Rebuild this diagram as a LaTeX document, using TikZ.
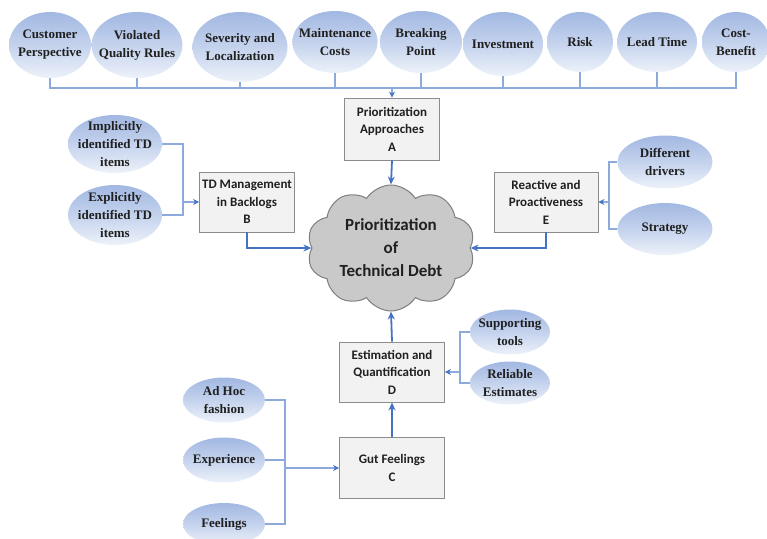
\documentclass[tikz,border=0pt]{standalone}
\usepackage{fontspec}
\setmainfont{Liberation Serif}
\newfontfamily\boxfont{Carlito}
\usetikzlibrary{arrows.meta,positioning,shapes.geometric,shapes.symbols}
\definecolor{factortop}{HTML}{A2B8E2}
\definecolor{factorbot}{HTML}{EDF2FA}
\definecolor{linkcol}{HTML}{8EA9DB}
\definecolor{flowcol}{HTML}{4472C4}
\definecolor{boxfill}{HTML}{F2F2F2}
\definecolor{boxline}{HTML}{8C8C8C}
\definecolor{cloudfill}{HTML}{C9C9C9}
\definecolor{cloudline}{HTML}{7F7F7F}
\definecolor{inktext}{HTML}{202020}

\tikzset{
  factor/.style={ellipse, top color=factortop, bottom color=factorbot, middle color=factortop!55!factorbot,
    inner sep=-6pt, align=center, text=inktext, font=\bfseries\fontsize{13}{18}\selectfont},
  stagebox/.style={rectangle, draw=boxline, fill=boxfill, line width=0.8pt, inner sep=0pt,
    align=center, text=inktext, font=\boxfont\bfseries\fontsize{13}{17.5}\selectfont},
  link/.style={linkcol, line width=1.1pt},
  feed/.style={link, -{Stealth[length=6pt,width=6pt,color=flowcol]}},
  flow/.style={flowcol, line width=1.8pt, -{Stealth[length=8pt,width=7pt]}},
}

\begin{document}
\begin{tikzpicture}[x=1pt,y=-1pt,>=Stealth]
  \useasboundingbox (0,0) rectangle (767,538);

  % factors feeding the prioritization approaches
  \foreach \nm/\x/\y/\w/\h/\lbl in {
      cust/50/45/82/66/{Customer\\Perspective},
      viol/137/45/82/66/{Violated\\Quality Rules},
      sev/240/47/95/70/{Severity and\\Localization},
      maint/335/42/80/62/{Maintenance\\Costs},
      brk/421/42/82/62/{Breaking\\Point},
      inv/503/44/80/64/{Investment},
      risk/580/42/66/60/{Risk},
      lead/657/42/80/60/{Lead Time},
      cost/736/42/68/60/{Cost-\\Benefit}} {
    \node[factor,minimum width=\w,minimum height=\h] (\nm) at (\x,\y) {\lbl};
  }

  % categories
  \node[stagebox,minimum width=95,minimum height=62] (appr) at (392,129) {Prioritization\\Approaches\\A};
  \node[stagebox,minimum width=95,minimum height=60] (backlog) at (247,202) {TD Management\\in Backlogs\\B};
  \node[stagebox,minimum width=104,minimum height=60] (react) at (546,202) {Reactive and\\Proactiveness\\E};
  \node[stagebox,minimum width=105,minimum height=60] (estim) at (392,372) {Estimation and\\Quantification\\D};
  \node[stagebox,minimum width=105,minimum height=61] (gut) at (392,468) {Gut Feelings\\C};

  \node[cloud,cloud puffs=10,cloud puff arc=115,cloud ignores aspect,minimum width=168,minimum height=126,inner sep=-8pt,
    fill=cloudfill,draw=cloudline,line width=1pt,align=center,text=inktext,
    font=\boxfont\bfseries\fontsize{17}{23}\selectfont] (debt) at (391,248) {Prioritization\\of\\Technical Debt};

  % side factors
  \node[factor,minimum width=94,minimum height=58] (impl) at (115,144) {Implicitly\\identified TD\\items};
  \node[factor,minimum width=94,minimum height=60] (expl) at (115,215) {Explicitly\\identified TD\\items};
  \node[factor,minimum width=95,minimum height=53] (drv) at (665,162) {Different\\drivers};
  \node[factor,minimum width=95,minimum height=52] (strat) at (665,229) {Strategy};
  \node[factor,minimum width=80,minimum height=45] (supp) at (510,332) {Supporting\\tools};
  \node[factor,minimum width=80,minimum height=43] (rel) at (510,383) {Reliable\\Estimates};
  \node[factor,minimum width=82,minimum height=45] (adhoc) at (224,400) {Ad Hoc\\fashion};
  \node[factor,minimum width=82,minimum height=45] (exper) at (224,460) {Experience};
  \node[factor,minimum width=82,minimum height=42] (feel) at (224,524) {Feelings};

  % top bus into A
  \coordinate (bus) at (0,88);
  \draw[link] (cust.south) |- (cost.south |- bus) -- (cost.south);
  \foreach \nm in {viol,sev,maint,brk,inv,risk,lead}
    \draw[link] (\nm.south) -- (\nm.south |- bus);
  \draw[feed] (appr.north |- bus) -- (appr.north);

  % forks
  \coordinate (jB) at (183,202);
  \coordinate (jE) at (609,202);
  \coordinate (jD) at (460,372);
  \coordinate (jC) at (285,468);
  \draw[link] (impl.east) -| (jB) |- (expl.east);
  \draw[feed] (jB) -- (backlog.west);
  \draw[link] (drv.west) -| (jE) |- (strat.west);
  \draw[feed] (jE) -- (react.east);
  \draw[link] (supp.west) -| (jD) |- (rel.west);
  \draw[feed] (jD) -- (estim.east);
  \draw[link] (adhoc.east) -| (jC) |- (feel.east);
  \draw[link] (exper.east) -- (exper.east -| jC);
  \draw[feed] (jC) -- (gut.west);

  % into the cloud
  \draw[flow] (appr.south) -- (debt.north);
  \draw[flow] (backlog.south) |- (debt);
  \draw[flow] (react.south) |- (debt);
  \draw[flow] (estim.north) -- (debt.south);
  \draw[flow] (gut.north) -- (estim.south);
\end{tikzpicture}
\end{document}
